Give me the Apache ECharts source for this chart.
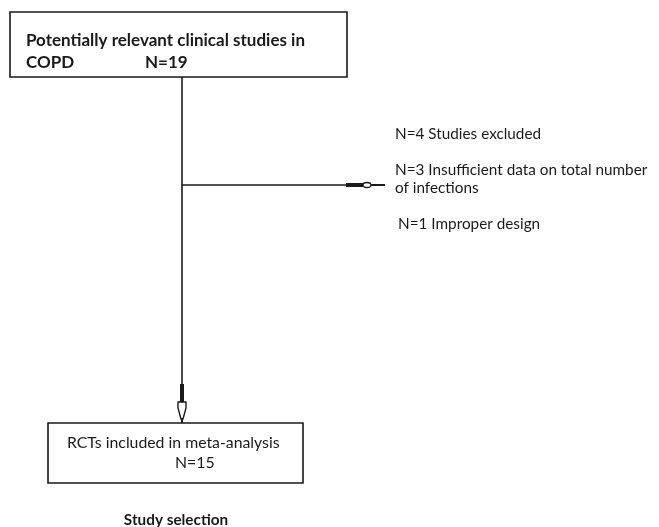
<!DOCTYPE html>
<html>
<head>
<meta charset="utf-8">
<script src="https://cdn.jsdelivr.net/npm/echarts@6/dist/echarts.min.js"></script>
<style>html,body{margin:0;padding:0;background:#fff;}#c{width:659px;height:527px;}</style>
</head>
<body>
<div id="c"></div>
<script>
// Flowchart content
const topLines = ['Potentially relevant clinical studies in', 'COPD'];
const totalN = 19;
const excludedN = [4, 3, 1];
const excludedLabels = ['Studies excluded', 'Insufficient data on total number', 'Improper design'];
const excludedExtra = 'of infections';
const includedLabel = 'RCTs included in meta-analysis';
const includedN = 15;
const caption = 'Study selection';

const FONT = 'Lato, "Open Sans", sans-serif';
const INK = '#1a1a1a';
const chart = echarts.init(document.getElementById('c'));

function txt(x, y, s, size, weight, align) {
  return { type: 'text', x: x, y: y, style: { text: s, fill: INK, font: (weight || 'normal') + ' ' + size + 'px ' + FONT, textAlign: align || 'left', textVerticalAlign: 'middle' } };
}
function line(x1, y1, x2, y2, w) {
  return { type: 'line', shape: { x1: x1, y1: y1, x2: x2, y2: y2 }, style: { stroke: INK, lineWidth: w || 1.5 } };
}

const g = [];
// top box
g.push({ type: 'rect', shape: { x: 10, y: 12, width: 337, height: 65 }, style: { fill: '#fff', stroke: INK, lineWidth: 1.6 } });
g.push(txt(26, 41, topLines[0], 17, 'bold'));
g.push(txt(26, 63, topLines[1], 17, 'bold'));
g.push(txt(145, 63, 'N=' + totalN, 17, 'bold'));
// vertical main line
g.push(line(182, 77, 182, 386, 1.6));
// horizontal branch
g.push(line(182, 185, 346, 185, 1.6));
g.push(line(346, 185, 363, 185, 4));
g.push({ type: 'ellipse', shape: { cx: 367, cy: 185, rx: 4, ry: 2.5 }, style: { fill: '#fff', stroke: INK, lineWidth: 1.3 } });
g.push(line(371, 185, 385, 185, 2));
// excluded text
g.push(txt(395, 134, 'N=' + excludedN[0] + ' ' + excludedLabels[0], 15.3));
g.push(txt(395, 170, 'N=' + excludedN[1] + ' ' + excludedLabels[1], 15.3));
g.push(txt(395, 188, excludedExtra, 15.3));
g.push(txt(398, 224, 'N=' + excludedN[2] + ' ' + excludedLabels[2], 15.3));
// down arrow
g.push(line(182, 384, 182, 402, 4));
g.push({ type: 'polygon', shape: { points: [[178, 402], [186, 402], [186, 408], [183, 419], [181, 419], [178, 408]] }, style: { fill: '#fff', stroke: INK, lineWidth: 1.4 } });
g.push(line(182, 418, 182, 424, 2));
// bottom box
g.push({ type: 'rect', shape: { x: 48, y: 423, width: 255, height: 60 }, style: { fill: '#fff', stroke: INK, lineWidth: 1.6 } });
g.push(txt(67, 443, includedLabel, 15.8));
g.push(txt(175, 463, 'N=' + includedN, 15.8));
// caption
g.push(txt(176, 520, caption, 15.3, 'bold', 'center'));

chart.setOption({ backgroundColor: '#fff', animation: false, graphic: { elements: g } });
</script>
</body>
</html>
